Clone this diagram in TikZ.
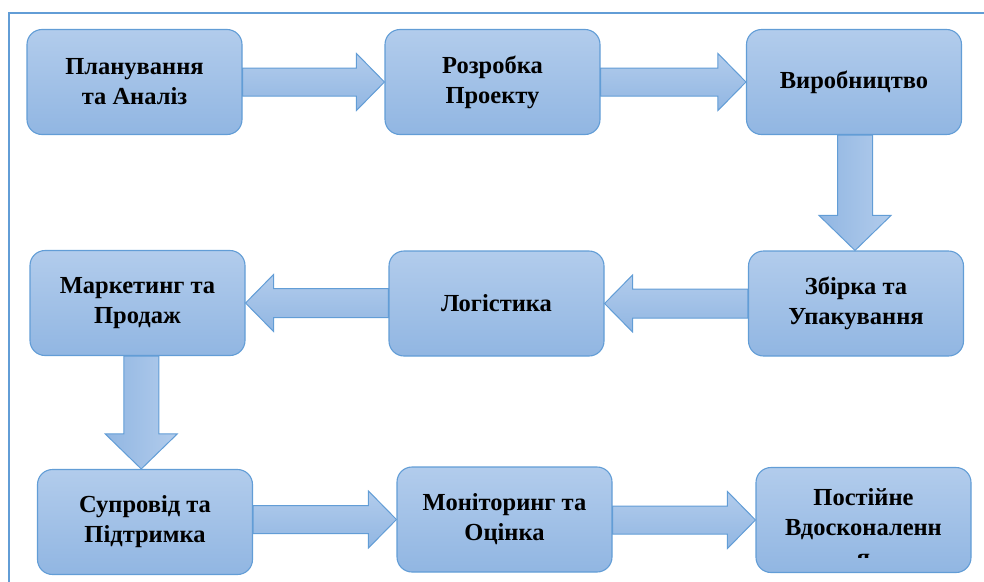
\documentclass[tikz,border=0pt]{standalone}
\usepackage{fontspec}
\setmainfont{Liberation Serif}
\usetikzlibrary{calc}

\definecolor{edgeblue}{RGB}{98,157,214}
\definecolor{filltop}{RGB}{178,204,236}
\definecolor{fillbot}{RGB}{145,182,226}

\tikzset{
  stage/.style={rectangle, rounded corners=15pt, draw=edgeblue, line width=1.1pt,
    top color=filltop, bottom color=fillbot, minimum width=215pt, minimum height=105pt,
    inner sep=0pt, align=center, font=\fontsize{24.5pt}{30pt}\selectfont\bfseries},
  stagetext/.style={inner sep=0pt, font=\fontsize{24.5pt}{30pt}\selectfont\bfseries},
  blockarrow/.style={draw=edgeblue, line width=1pt, line join=miter,
    top color=filltop, bottom color=fillbot},
  vblockarrow/.style={draw=edgeblue, line width=1pt, line join=miter,
    left color=fillbot, right color=filltop},
  frameline/.style={draw=edgeblue, line width=2.2pt}
}

% block arrow pointing right, from the east side of #1 to the west side of #2
\newcommand{\arrowR}[2]{%
  \path[blockarrow] let \p1=(#1.east), \p2=(#2.west) in
    (\x1,\y2+14pt) -- (\x2-28pt,\y2+14pt) -- (\x2-28pt,\y2+28.5pt) -- (\x2,\y2)
    -- (\x2-28pt,\y2-28.5pt) -- (\x2-28pt,\y2-14pt) -- (\x1,\y2-14pt) -- cycle;}
% block arrow pointing left, from the west side of #1 to the east side of #2
\newcommand{\arrowL}[2]{%
  \path[blockarrow] let \p1=(#1.west), \p2=(#2.east) in
    (\x1,\y2+14.5pt) -- (\x2+28pt,\y2+14.5pt) -- (\x2+28pt,\y2+28.5pt) -- (\x2,\y2)
    -- (\x2+28pt,\y2-28.5pt) -- (\x2+28pt,\y2-14.5pt) -- (\x1,\y2-14.5pt) -- cycle;}
% block arrow pointing down, from the south side of #1 to the north side of #2
\newcommand{\arrowD}[2]{%
  \path[vblockarrow] let \p1=(#1.south), \p2=(#2.north), \n1={(\x1+\x2)/2} in
    (\n1-17.5pt,\y1) -- (\n1-17.5pt,\y2+35pt) -- (\n1-36pt,\y2+35pt) -- (\n1,\y2)
    -- (\n1+36pt,\y2+35pt) -- (\n1+17.5pt,\y2+35pt) -- (\n1+17.5pt,\y1) -- cycle;}

\begin{document}
\begin{tikzpicture}[x=1pt,y=-1pt]
  \useasboundingbox (0,0) rectangle (984,581);

  % outer frame (runs off the right and bottom edges)
  \draw[frameline] (9,600) -- (9,13) -- (1000,13);

  % process stages
  \node[stage] (plan)    at (134.5,82)  {Планування\\та Аналіз};
  \node[stage] (design)  at (492.5,82)  {Розробка\\Проекту};
  \node[stage] (prod)    at (854,82)    {Виробництво};
  \node[stage] (pack)    at (856,303.5) {Збірка та\\Упакування};
  \node[stage] (logist)  at (496.5,303.5) {Логістика};
  \node[stage] (market)  at (137.5,303) {Маркетинг та\\Продаж};
  \node[stage] (support) at (145,522)   {Супровід та\\Підтримка};
  \node[stage] (monitor) at (504.5,519.5) {Моніторинг та\\Оцінка};
  \node[stage] (improve) at (863.5,520) {};

  % overflowing label of the last stage, cut off at the text area
  \begin{scope}
    \clip (improve.north west) rectangle (improve.east |- 0,557);
    \node[stagetext, anchor=base] (imp1) at (improve.center |- 0,505) {Постійне};
    \node[stagetext, anchor=base] (imp2) at (improve.center |- 0,535) {Вдосконаленн};
    \node[stagetext, anchor=base] (imp3) at (improve.center |- 0,565) {я};
  \end{scope}

  % connectors
  \arrowR{plan}{design}
  \arrowR{design}{prod}
  \arrowD{prod}{pack}
  \arrowL{pack}{logist}
  \arrowL{logist}{market}
  \arrowD{market}{support}
  \arrowR{support}{monitor}
  \arrowR{monitor}{improve}
\end{tikzpicture}
\end{document}
